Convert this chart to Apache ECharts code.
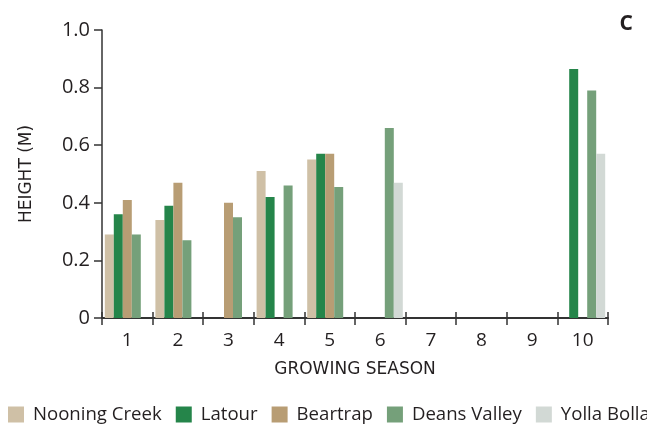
<!DOCTYPE html>
<html>
<head>
<meta charset="utf-8">
<script src="https://cdn.jsdelivr.net/npm/echarts@6/dist/echarts.min.js"></script>
<style>
  html, body { margin: 0; padding: 0; background: #ffffff; overflow: hidden; }
  #chart { width: 647px; height: 427px; }
</style>
</head>
<body>
<div id="chart"></div>
<script>
// Plant height by growing season at five sites
const seasons = ['1', '2', '3', '4', '5', '6', '7', '8', '9', '10'];
const yTicks = [0, 0.2, 0.4, 0.6, 0.8, 1.0];

const nooningCreek = [0.29, 0.34, null, 0.51, 0.55, null, null, null, null, null];
const latour       = [0.36, 0.39, null, 0.42, 0.57, null, null, null, null, 0.865];
const beartrap     = [0.41, 0.47, 0.40, null, 0.57, null, null, null, null, null];
const deansValley  = [0.29, 0.27, 0.35, 0.46, 0.455, 0.66, null, null, null, 0.79];
const yollaBolla   = [null, null, null, null, null, 0.47, null, null, null, 0.57];

const siteNames = ['Nooning Creek', 'Latour', 'Beartrap', 'Deans Valley', 'Yolla Bolla'];
const siteData = [nooningCreek, latour, beartrap, deansValley, yollaBolla];
const siteColors = ['#cfc0a6', '#25854a', '#b89d74', '#75a07a', '#d2d9d5'];

const FONT = 'Open Sans';
const INK = '#231f20';

const chart = echarts.init(document.getElementById('chart'), null, { renderer: 'canvas' });

chart.setOption({
  animation: false,
  backgroundColor: '#ffffff',
  textStyle: { fontFamily: FONT, color: INK },
  grid: { left: 102, right: 39, top: 30, bottom: 109, containLabel: false },
  title: {
    text: 'C',
    right: 9,
    top: 9,
    textStyle: { fontFamily: FONT, fontSize: 21, fontWeight: 'bold', color: INK }
  },
  legend: {
    data: siteNames,
    left: 3,
    top: 400,
    width: 1200,
    itemWidth: 16,
    itemHeight: 16,
    itemGap: 14,
    icon: 'rect',
    textStyle: { fontFamily: FONT, fontSize: 18.6, color: INK, padding: [0, 0, 0, 4] }
  },
  xAxis: [
    {
      type: 'category',
      data: seasons,
      name: 'GROWING SEASON',
      nameLocation: 'middle',
      nameGap: 43,
      nameTextStyle: { fontFamily: 'DejaVu Sans', fontSize: 17, color: INK },
      axisLine: { lineStyle: { color: '#333333', width: 2 } },
      axisTick: { show: true, inside: false, length: 7, lineStyle: { color: '#333333', width: 1.5 } },
      axisLabel: { fontFamily: FONT, fontSize: 19, color: INK, margin: 13 },
      splitLine: { show: false }
    },
    {
      type: 'category',
      data: seasons,
      position: 'bottom',
      axisLine: { show: false },
      axisTick: { show: true, inside: true, length: 6, lineStyle: { color: '#333333', width: 1.5 } },
      axisLabel: { show: false },
      splitLine: { show: false }
    }
  ],
  yAxis: {
    type: 'value',
    min: yTicks[0],
    max: yTicks[yTicks.length - 1],
    interval: 0.2,
    name: 'HEIGHT (M)',
    nameLocation: 'middle',
    nameGap: 67,
    nameRotate: 90,
    nameTextStyle: { fontFamily: 'DejaVu Sans', fontSize: 17, color: INK },
    axisLine: { show: true, lineStyle: { color: '#333333', width: 1.5 } },
    axisTick: { show: true, inside: false, length: 8, lineStyle: { color: '#333333', width: 1.5 } },
    axisLabel: {
      fontFamily: FONT, fontSize: 20, color: INK, margin: 12,
      formatter: v => (v === 0 ? '0' : v.toFixed(1))
    },
    splitLine: { show: false }
  },
  series: siteNames.map((name, i) => ({
    name: name,
    type: 'bar',
    data: siteData[i],
    barWidth: 9,
    barGap: '0%',
    itemStyle: { color: siteColors[i] },
    z: 1
  }))
});
</script>
</body>
</html>
